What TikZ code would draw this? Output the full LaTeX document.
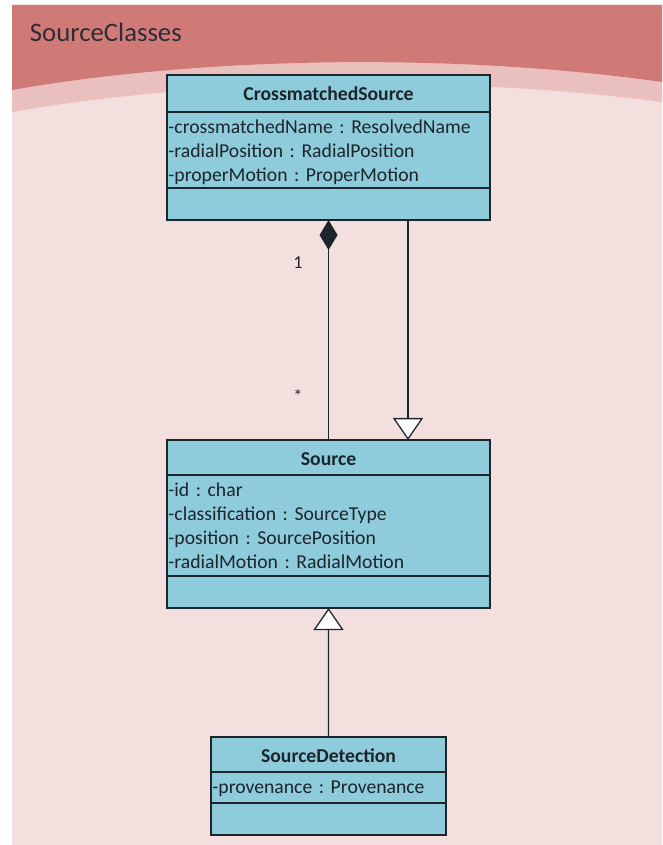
\documentclass[tikz,border=0pt]{standalone}
\usepackage{fontspec}
\setmainfont{Carlito}
\usepackage{tikz}
\usetikzlibrary{arrows.meta}
\definecolor{umlblue}{RGB}{143,204,219}
\definecolor{umlink}{RGB}{28,36,44}
\definecolor{panelpink}{RGB}{243,223,222}
\definecolor{bandpink}{RGB}{234,192,190}
\definecolor{headpink}{RGB}{208,122,120}
\frenchspacing

\begin{document}
\begin{tikzpicture}[x=0.025cm, y=-0.025cm,
    classbox/.style={draw=umlink, fill=umlblue, line width=0.9pt, anchor=north west,
      inner sep=0pt, outer sep=0pt, text=umlink},
    classname/.style={classbox, font=\fontsize{14}{17}\selectfont\bfseries},
    classattr/.style={classbox, align=left, inner xsep=1pt,
      font=\fontsize{14}{17.2}\selectfont},
    assoc/.style={draw=umlink, line width=0.9pt},
    mult/.style={text=umlink, font=\fontsize{13}{15}\selectfont}]
  \useasboundingbox (0,0) rectangle (662,845);
  \fill[white] (0,0) rectangle (662,845);
  \fill[panelpink] (12,5) rectangle (662,845);
  \fill[bandpink] (12,5) -- (662,5) -- (662,102)
    .. controls (450,74) and (200,79) .. (12,112) -- cycle;
  \fill[headpink] (12,5) -- (662,5) -- (662,82)
    .. controls (450,52) and (200,57) .. (12,90) -- cycle;
  \node[anchor=west, text=umlink!90!headpink, font=\fontsize{19}{22}\selectfont]
    (pkg) at (25,32) {SourceClasses};

  % x/y/width, then title and attribute heights, all in px of the sheet
  \foreach \nm/\x/\y/\w/\htitle/\hattr/\ttl/\attrs in {
      cms/167/75/323/37/76/CrossmatchedSource/{-crossmatchedName : ResolvedName\\-radialPosition : RadialPosition\\-properMotion : ProperMotion},
      src/167/440/323/35/101/Source/{-id : char\\-classification : SourceType\\-position : SourcePosition\\-radialMotion : RadialMotion},
      sd/211/737/235/35/31/SourceDetection/{-provenance : Provenance}
    } {
      \node[classname, minimum width=\w*0.25mm, minimum height=\htitle*0.25mm,
        text height=25*0.25mm, text depth=\htitle*0.25mm-25*0.25mm]
        (\nm-title) at (\x,\y) {\ttl};
      \node[classattr, minimum width=\w*0.25mm, minimum height=\hattr*0.25mm,
        text height=21*0.25mm, text depth=\hattr*0.25mm-21*0.25mm,
        text width=\w*0.25mm-2pt] (\nm-attr) at (\nm-title.south west) {\attrs};
      \node[classbox, minimum width=\w*0.25mm, minimum height=8mm]
        (\nm-ops) at (\nm-attr.south west) {};
    }

  \coordinate (genx) at (408,330);
  \draw[assoc, {Diamond[length=7.5mm, width=4.5mm]}-] (cms-ops.south) -- (src-title.north);
  \draw[assoc, -{Triangle[length=5.5mm, width=7.5mm, fill=white]}]
    (cms-ops.south -| genx) -- (src-title.north -| genx);
  \draw[assoc, -{Triangle[length=5.5mm, width=7.5mm, fill=white]}]
    (sd-title.north) -- (src-ops.south);
  \node[mult] (one) at (298,263) {1};
  \node[mult] (many) at (298,396) {*};
\end{tikzpicture}
\end{document}
